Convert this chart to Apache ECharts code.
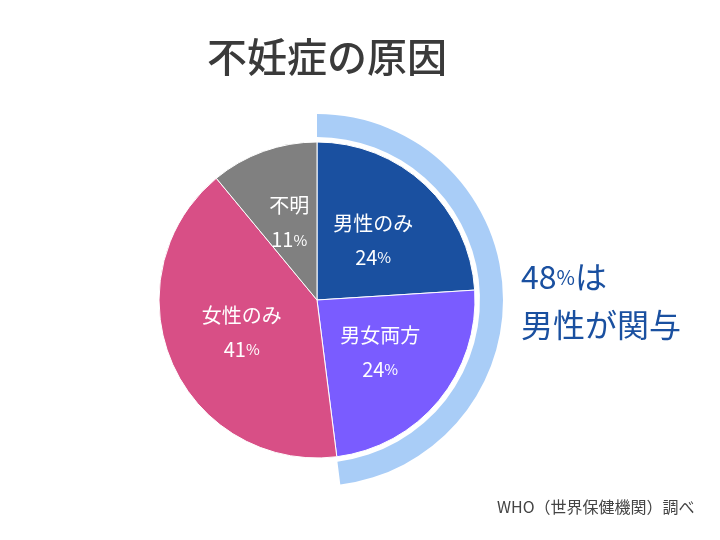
<!DOCTYPE html>
<html>
<head>
	<meta charset="utf-8">
	<script src="https://cdn.jsdelivr.net/npm/echarts@6/dist/echarts.min.js"></script>
</head>
<body style="margin:0">
	<div id="main" style="width:720px;height:540px;"></div>
	<script>
		var names = ['男性のみ', '男女両方', '女性のみ', '不明'];
		var values = [24, 24, 41, 11];
		var colors = ['#1a50a0', '#7a5cff', '#d84f86', '#808080'];
		var maleShare = 48;

		var font = '"Noto Sans CJK JP", sans-serif';
		var myChart = echarts.init(document.getElementById('main'));
		var option = {
			backgroundColor: '#fff',
			title: [{
				text: '不妊症の原因',
				left: 322, top: 32, textAlign: 'center',
				textStyle: { fontFamily: font, fontSize: 40, fontWeight: 500, color: '#3a3a3a' }
			}, {
				text: '{n|48}{p|%}{n|は}\n{n|男性が関与}',
				left: 516, top: 248,
				textStyle: {
					rich: {
						n: { fontFamily: font, fontSize: 32, fontWeight: 'normal', color: '#1a50a0', lineHeight: 48 },
						p: { fontFamily: font, fontSize: 20, fontWeight: 'normal', color: '#1a50a0', lineHeight: 48 }
					}
				}
			}, {
				text: 'WHO（世界保健機関）調べ',
				left: 492, top: 494,
				textStyle: { fontFamily: font, fontSize: 16, fontWeight: 'normal', color: '#444' }
			}],
			series: [{
				type: 'pie',
				center: [317, 300],
				radius: [163, 186],
				startAngle: 90,
				silent: true,
				label: { show: false },
				data: [
					{ value: maleShare, itemStyle: { color: '#a9cdf7' } },
					{ value: 100 - maleShare, itemStyle: { color: 'transparent' } }
				]
			}, {
				type: 'pie',
				center: [317, 300],
				radius: 158,
				startAngle: 90,
				itemStyle: { borderColor: '#fff', borderWidth: 1 },
				label: {
					position: 'inner',
					formatter: function (p) { return '{t|' + p.name + '}\n{n|' + p.value + '}{p|%}'; },
					rich: {
						t: { fontFamily: font, fontSize: 20, color: '#fff', lineHeight: 34 },
						n: { fontFamily: font, fontSize: 20, color: '#fff', lineHeight: 34 },
						p: { fontFamily: font, fontSize: 15, color: '#fff', lineHeight: 34 }
					}
				},
				data: names.map(function (n, i) {
					return { name: n, value: values[i], itemStyle: { color: colors[i] } };
				})
			}]
		};
		myChart.setOption(option);
	</script>
</body>
</html>
